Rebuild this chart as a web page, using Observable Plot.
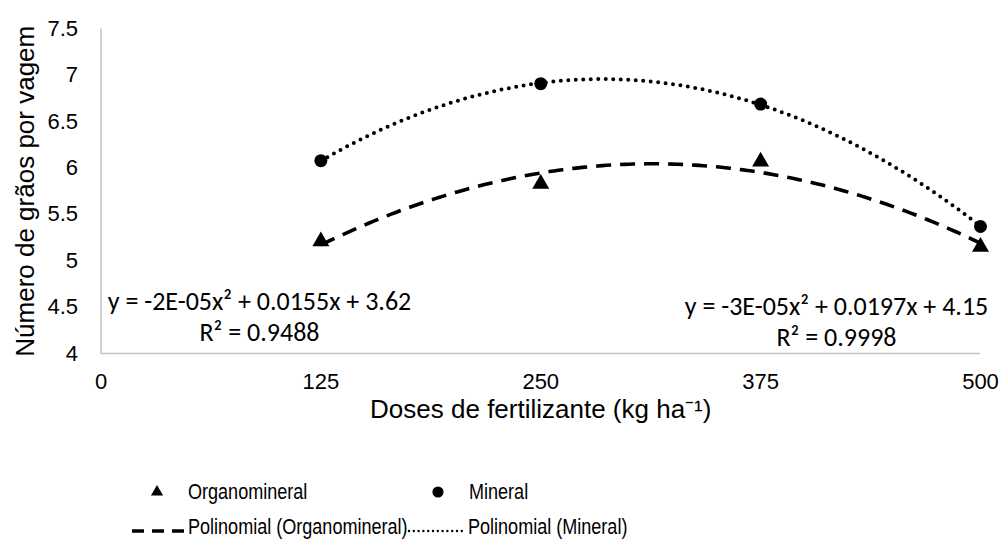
<!DOCTYPE html>
<html>
<head>
<meta charset="utf-8">
<script src="https://cdn.jsdelivr.net/npm/d3@7"></script>
<script src="https://cdn.jsdelivr.net/npm/@observablehq/plot@0.6"></script>
<style>
  html, body { margin: 0; padding: 0; background: #fff; }
  #wrap { position: relative; width: 1002px; height: 542px; overflow: hidden; }
  #chart { position: absolute; left: 0; top: 0; }
  .lg { position: absolute; font-family: "Liberation Sans", Arial, sans-serif; font-size: 22px; color: #000; line-height: 1; white-space: nowrap; transform: translateY(-50%) scaleX(0.82); transform-origin: 0 50%; }
  .sym { position: absolute; }
</style>
</head>
<body>
<div id="wrap">
  <div id="chart"></div>
</div>
<script>
// ---- data ----
const doses = [125, 250, 375, 500];
const organomineral = [5.21, 5.83, 6.07, 5.15];
const mineral = [6.08, 6.91, 6.69, 5.37];
const xTicks = [0, 125, 250, 375, 500];
const yTicks = [4, 4.5, 5, 5.5, 6, 6.5, 7, 7.5];
const xTitle = "Doses de fertilizante (kg ha⁻¹)";
const yTitle = "Número de grãos por vagem";
const eqOrgano = "y = -2E-05x² + 0.0155x + 3.62\nR² = 0.9488";
const eqMineral = "y = -3E-05x² + 0.0197x + 4.15\nR² = 0.9998";
const legendLabels = ["Organomineral", "Mineral", "Polinomial (Organomineral)", "Polinomial (Mineral)"];

// ---- least-squares quadratic fit (the trendline Excel draws) ----
function quadFit(xs, ys) {
  const n = xs.length;
  let s = [0,0,0,0,0], t = [0,0,0];
  for (let i = 0; i < n; i++) {
    const x = xs[i], y = ys[i];
    for (let k = 0; k <= 4; k++) s[k] += Math.pow(x, k);
    for (let k = 0; k <= 2; k++) t[k] += y * Math.pow(x, k);
  }
  const M = [[s[0], s[1], s[2], t[0]], [s[1], s[2], s[3], t[1]], [s[2], s[3], s[4], t[2]]];
  for (let i = 0; i < 3; i++) {
    let p = i;
    for (let r = i + 1; r < 3; r++) if (Math.abs(M[r][i]) > Math.abs(M[p][i])) p = r;
    [M[i], M[p]] = [M[p], M[i]];
    for (let r = 0; r < 3; r++) {
      if (r === i) continue;
      const f = M[r][i] / M[i][i];
      for (let c = i; c < 4; c++) M[r][c] -= f * M[i][c];
    }
  }
  const c0 = M[0][3] / M[0][0], b = M[1][3] / M[1][1], a = M[2][3] / M[2][2];
  return x => a * x * x + b * x + c0;
}
const fO = quadFit(doses, organomineral);
const fM = quadFit(doses, mineral);
const xs = d3.range(d3.min(doses), d3.max(doses) + 0.001, 2.5);
const trendO = xs.map(x => ({dose: x, value: fO(x)}));
const trendM = xs.map(x => ({dose: x, value: fM(x)}));
const ptsO = doses.map((d, i) => ({dose: d, value: organomineral[i]}));
const ptsM = doses.map((d, i) => ({dose: d, value: mineral[i]}));

const W = 1002, H = 440;
const chart = Plot.plot({
  width: W, height: H,
  marginLeft: 100.5, marginRight: 22, marginTop: 28.5, marginBottom: H - 353,
  style: {fontFamily: '"Liberation Sans", Arial, sans-serif', fontSize: "22px", color: "#000", background: "#fff", overflow: "visible"},
  x: {domain: [0, 500]},
  y: {domain: [4, 7.5]},
  marks: [
    Plot.axisX(xTicks, {tickSize: 0, tickPadding: 20, label: null, fontSize: 22}),
    Plot.axisY(yTicks, {tickSize: 0, tickPadding: 23, label: null, fontSize: 22, tickFormat: d => String(d)}),
    Plot.ruleX([0], {stroke: "#c4c4c4", strokeWidth: 1.6}),
    Plot.ruleY([4], {stroke: "#c4c4c4", strokeWidth: 1.6}),
    Plot.text([yTitle], {frameAnchor: "left", rotate: -90, dx: -75, textAnchor: "middle", fontSize: 26, fill: "#000"}),
    Plot.text([xTitle], {frameAnchor: "bottom", dy: 64, textAnchor: "middle", fontSize: 26, fill: "#000"}),
    Plot.line(trendM, {x: "dose", y: "value", stroke: "#000", strokeWidth: 4, strokeDasharray: "0,7.5", strokeLinecap: "round", curve: "linear"}),
    Plot.line(trendO, {x: "dose", y: "value", stroke: "#000", strokeWidth: 3.6, strokeDasharray: "15,9", strokeLinecap: "butt", curve: "linear"}),
    Plot.dot(ptsO, {x: "dose", y: "value", symbol: "triangle", r: 6.3, fill: "#000", stroke: "none"}),
    Plot.dot(ptsM, {x: "dose", y: "value", symbol: "circle", r: 6.5, fill: "#000", stroke: "none"}),
    Plot.text([eqOrgano], {frameAnchor: "bottom-left", dx: 158.5, dy: -38, textAnchor: "middle", lineAnchor: "middle", lineHeight: 1.2, fontSize: 26, fontFamily: "Carlito, Lato, sans-serif", fill: "#000"}),
    Plot.text([eqMineral], {frameAnchor: "bottom-right", dx: -144, dy: -33, textAnchor: "middle", lineAnchor: "middle", lineHeight: 1.2, fontSize: 26, fontFamily: "Carlito, Lato, sans-serif", fill: "#000"})
  ]
});
document.getElementById("chart").appendChild(chart);

// ---- legend (below the SVG) ----
const wrap = document.getElementById("wrap");
function addSym(svgInner, left, top, w, h) {
  const d = document.createElement("div");
  d.className = "sym";
  d.style.left = left + "px"; d.style.top = top + "px";
  d.innerHTML = `<svg width="${w}" height="${h}" xmlns="http://www.w3.org/2000/svg">${svgInner}</svg>`;
  wrap.appendChild(d);
}
function addText(t, left, cy) {
  const s = document.createElement("div");
  s.className = "lg";
  s.style.left = left + "px"; s.style.top = cy + "px";
  s.textContent = t;
  wrap.appendChild(s);
}
const r1 = 492, r2 = 527;
addSym(`<path d="${d3.symbol(d3.symbolTriangle, 64)()}" transform="translate(7,8)" fill="#000"/>`, 150, r1 - 8, 14, 16);
addText(legendLabels[0], 188, r1);
addSym(`<circle cx="7" cy="7" r="5.6" fill="#000"/>`, 431, r1 - 7, 14, 14);
addText(legendLabels[1], 469, r1);
addSym(`<line x1="0" y1="5" x2="52" y2="5" stroke="#000" stroke-width="3.5" stroke-dasharray="12,8"/>`, 132, r2 - 5, 54, 10);
addText(legendLabels[2], 188, r2);
addSym(`<line x1="2" y1="5" x2="56" y2="5" stroke="#000" stroke-width="2.4" stroke-dasharray="0,4.8" stroke-linecap="round"/>`, 407, r2 - 5, 60, 10);
addText(legendLabels[3], 468, r2);
</script>
</body>
</html>
